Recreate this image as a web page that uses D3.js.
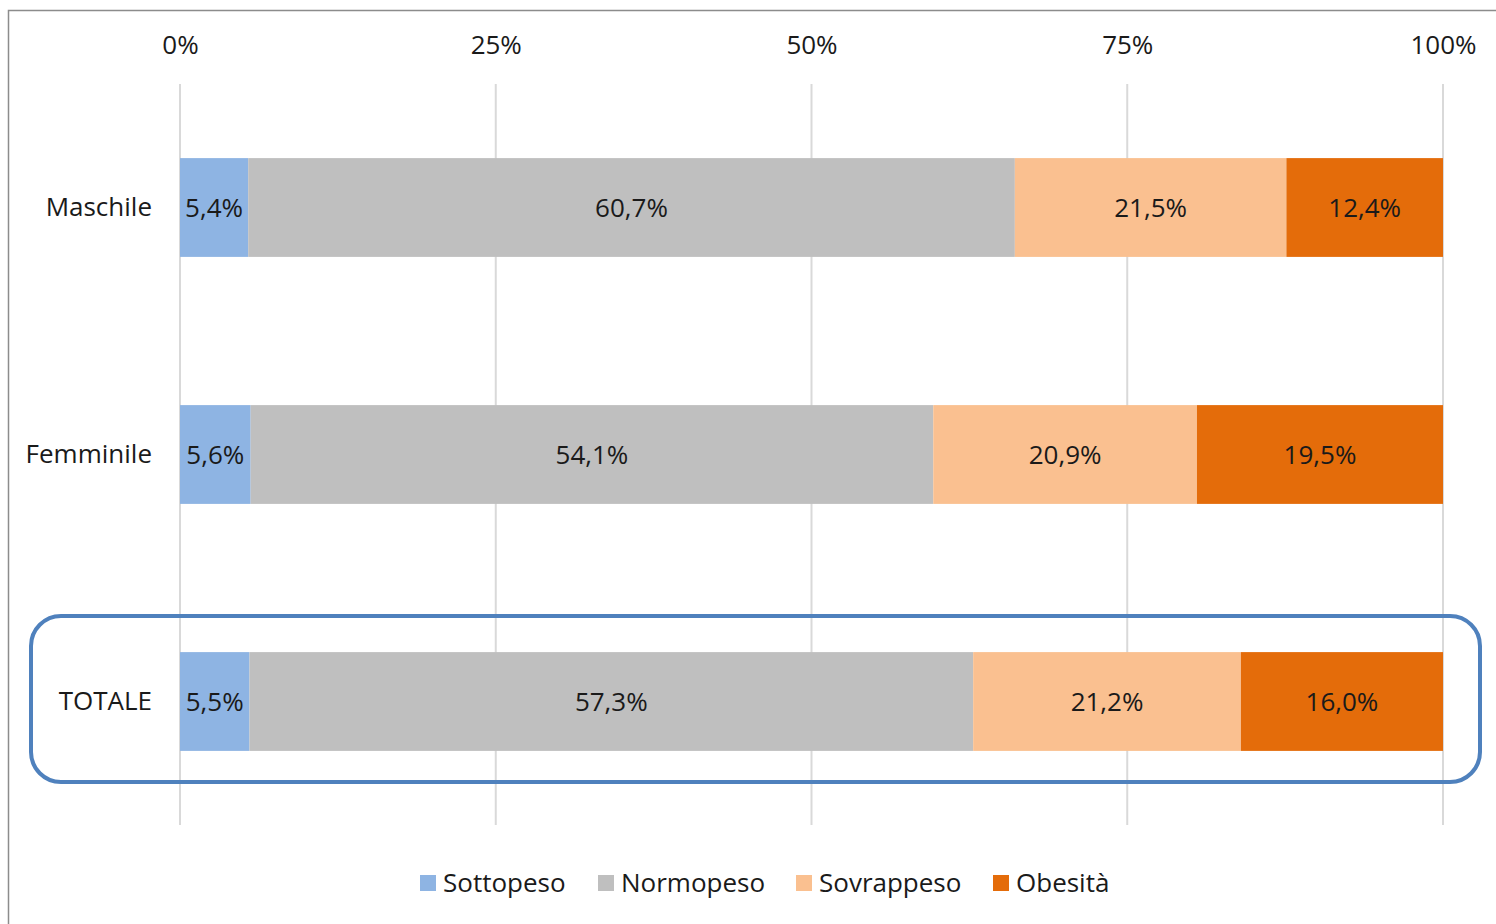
<!DOCTYPE html>
<html lang="en">
<head>
  <meta charset="UTF-8">
  <title>chart</title>
  <script src="https://cdn.jsdelivr.net/npm/d3@7/dist/d3.min.js"></script>
</head>
<body>
<style>
  * { padding: 0; margin: 0; }
  body { background: #fff; }
  svg text { font-family: "Open Sans", sans-serif; fill: #1a1a1a; }
</style>
<div id="app"></div>
<script>
  // data
  let categories = ["Maschile", "Femminile", "TOTALE"];
  let seriesNames = ["Sottopeso", "Normopeso", "Sovrappeso", "Obesità"];
  let sottopeso = [5.4, 5.6, 5.5];
  let normopeso = [60.7, 54.1, 57.3];
  let sovrappeso = [21.5, 20.9, 21.2];
  let obesita = [12.4, 19.5, 16.0];
  let tickValues = [0, 0.25, 0.5, 0.75, 1];
  let colors = ["#8EB4E3", "#BFBFBF", "#FAC090", "#E46C0A"];

  let $width = 1496, $height = 924, $font = 26;
  let $left = 180, $right = 1443, $top = 84, $bottom = 825;

  let series = [sottopeso, normopeso, sovrappeso, obesita];
  let rows = categories.map(function (c, i) {
    let r = { cat: c };
    seriesNames.forEach(function (s, j) { r[s] = series[j][i]; });
    return r;
  });

  let stacked = d3.stack().keys(seriesNames).offset(d3.stackOffsetExpand)(rows);

  let svg = d3.select("#app").append("svg").attr("width", $width).attr("height", $height);

  // chart area border
  svg.append("rect").attr("x", 8.5).attr("y", 10.5).attr("width", 1600).attr("height", 1000)
    .attr("fill", "#fff").attr("stroke", "#8c8c8c").attr("stroke-width", 1.5);

  let x = d3.scaleLinear().domain([0, 1]).range([$left, $right]);
  let y = d3.scaleBand().domain(categories).range([$top, $bottom]).paddingInner(0.6).paddingOuter(0.3);

  // gridlines
  svg.append("g").selectAll("line").data(tickValues).enter().append("line")
    .attr("x1", d => x(d)).attr("x2", d => x(d))
    .attr("y1", $top).attr("y2", $bottom)
    .attr("stroke", "#d9d9d9").attr("stroke-width", 2);

  // top axis labels
  let xAxis = d3.axisTop(x).tickValues(tickValues).tickSize(0).tickPadding(0)
    .tickFormat(d => Math.round(d * 100) + "%");
  let gx = svg.append("g").attr("transform", "translate(0,54)").call(xAxis);
  gx.select(".domain").remove();
  gx.selectAll("text").attr("font-size", $font).attr("font-family", "Open Sans").attr("fill", "#1a1a1a");

  // category labels
  let yAxis = d3.axisLeft(y).tickSize(0).tickPadding(28);
  let gy = svg.append("g").attr("transform", "translate(" + $left + ",0)").call(yAxis);
  gy.select(".domain").remove();
  gy.selectAll("text").attr("font-size", $font).attr("font-family", "Open Sans").attr("fill", "#1a1a1a");

  // bars
  let layers = svg.append("g").selectAll("g").data(stacked).enter().append("g")
    .attr("fill", (d, i) => colors[i]);

  layers.selectAll("rect").data(d => d).enter().append("rect")
    .attr("x", d => x(d[0]))
    .attr("width", d => x(d[1]) - x(d[0]))
    .attr("y", d => y(d.data.cat))
    .attr("height", y.bandwidth());

  // value labels
  layers.selectAll("text").data(function (d) {
    return d.map(p => ({ p: p, key: d.key }));
  }).enter().append("text")
    .attr("x", d => (x(d.p[0]) + x(d.p[1])) / 2)
    .attr("y", d => y(d.p.data.cat) + y.bandwidth() / 2)
    .attr("dy", "0.35em")
    .attr("text-anchor", "middle")
    .attr("font-size", $font)
    .text(d => d.p.data[d.key].toFixed(1).replace(".", ",") + "%");

  // highlight box around TOTALE
  svg.append("rect").attr("x", 31).attr("y", 616).attr("width", 1449).attr("height", 166)
    .attr("rx", 30).attr("ry", 30)
    .attr("fill", "none").attr("stroke", "#4F81BD").attr("stroke-width", 4);

  // legend
  let legendX = [420, 598, 796, 993];
  let legend = svg.append("g").selectAll("g").data(seriesNames).enter().append("g")
    .attr("transform", (d, i) => "translate(" + legendX[i] + ",875)");
  legend.append("rect").attr("width", 16).attr("height", 16).attr("fill", (d, i) => colors[i]);
  legend.append("text").attr("x", 23).attr("y", 8).attr("dy", "0.35em")
    .attr("font-size", $font).text(d => d);
</script>
</body>
</html>
